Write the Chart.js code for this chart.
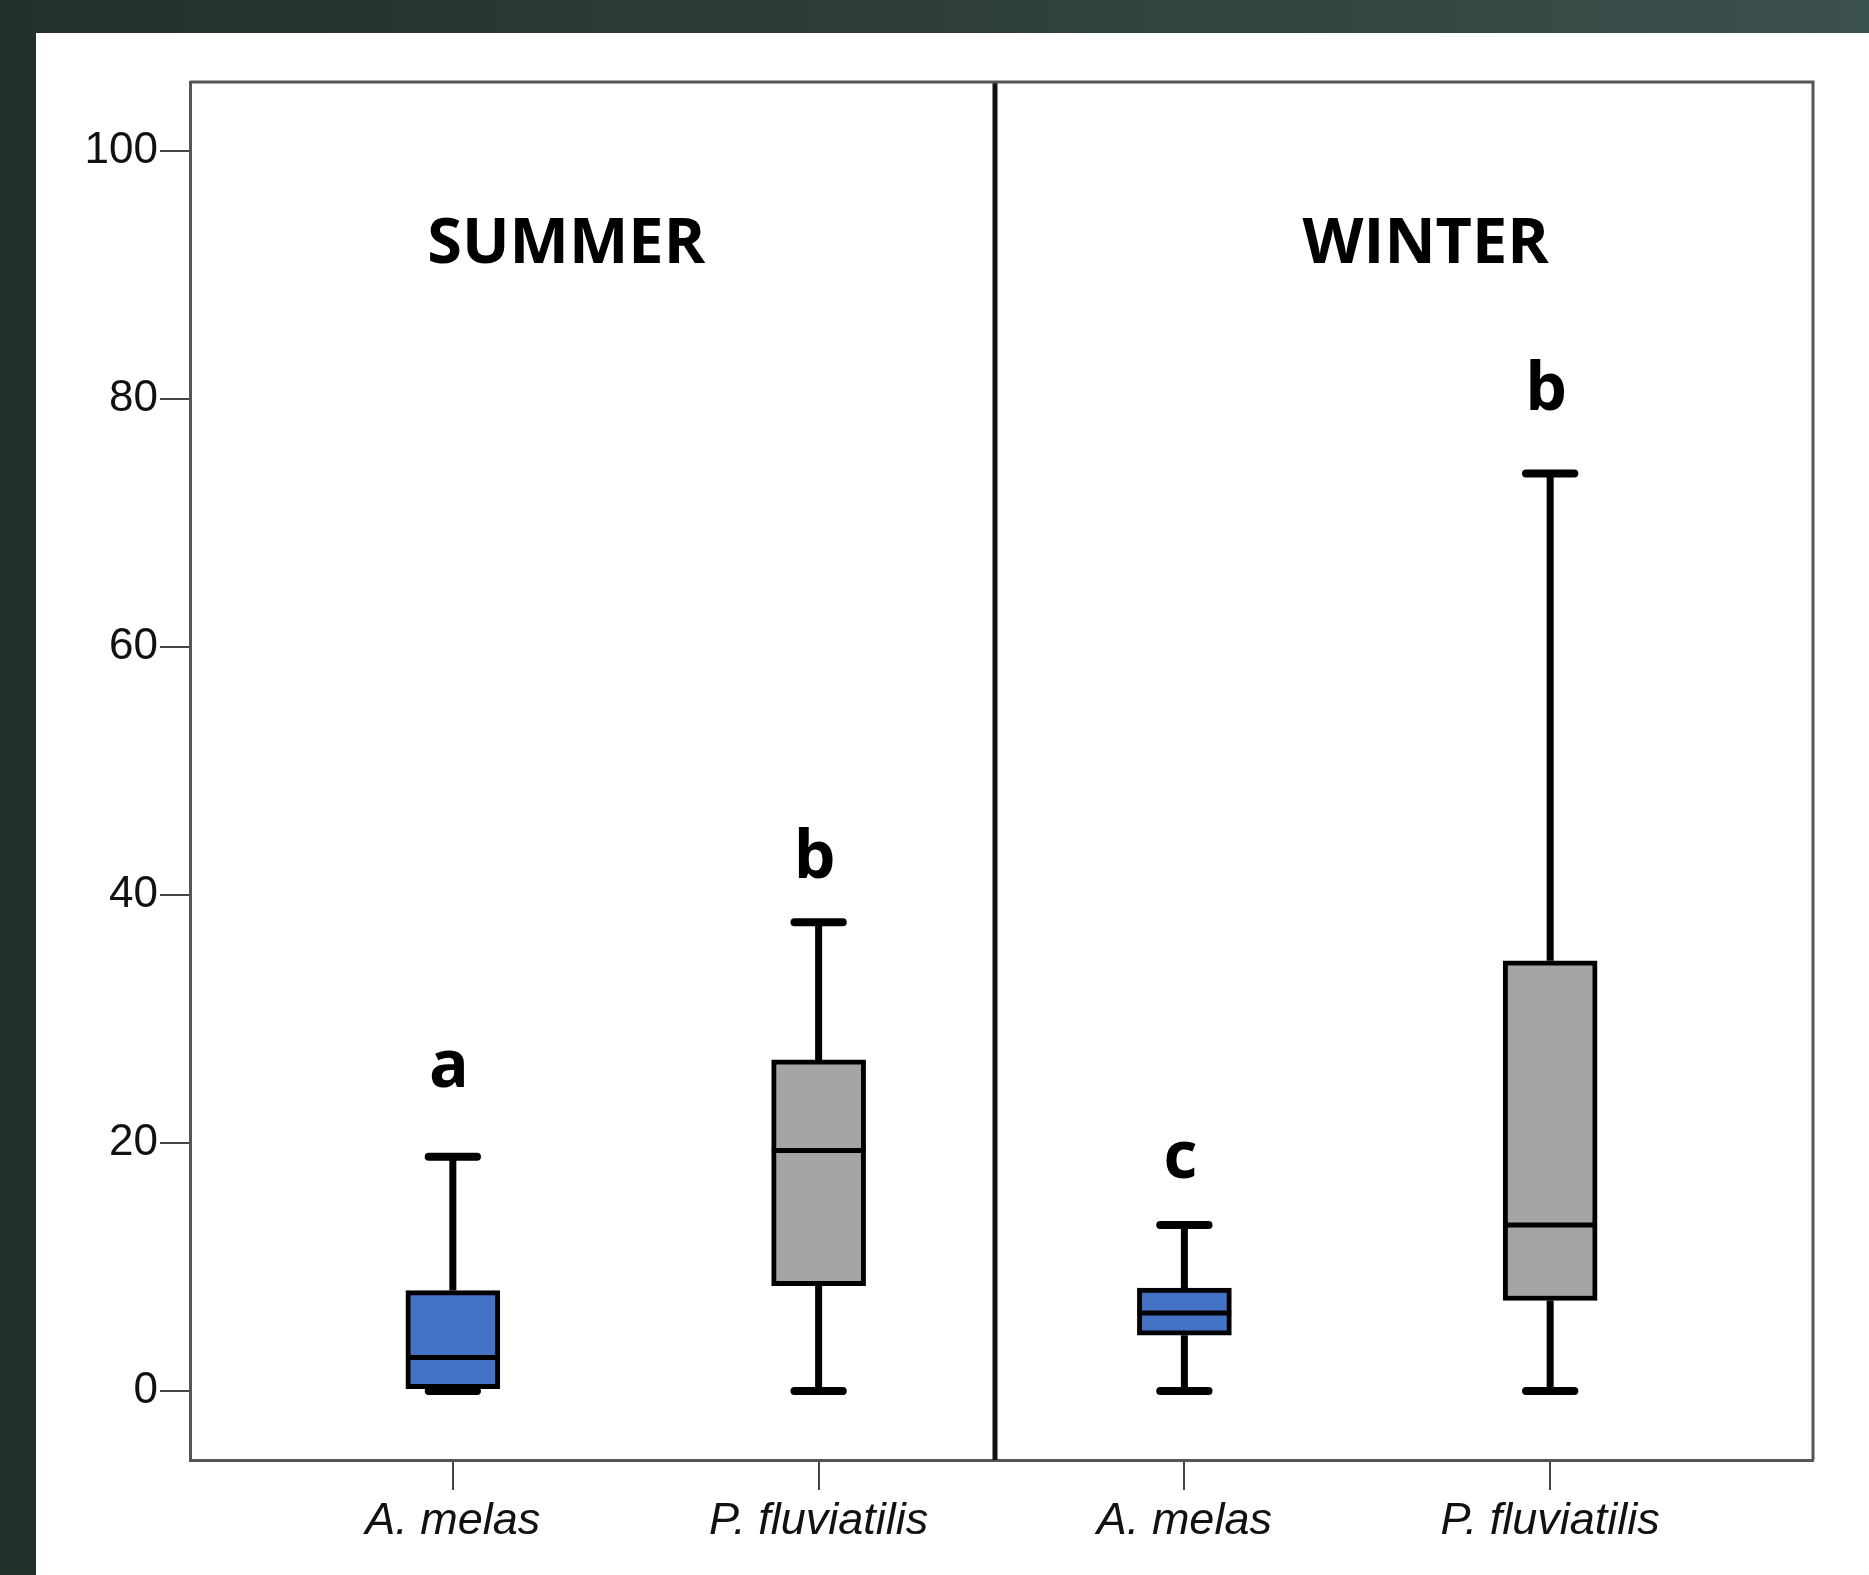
<!DOCTYPE html>
<html>
<head>
<meta charset="utf-8">
<script src="https://cdn.jsdelivr.net/npm/chart.js@4.4.1/dist/chart.umd.min.js"></script>
<style>
  html, body { margin:0; padding:0; width:1869px; height:1575px; overflow:hidden;
    background: linear-gradient(90deg, #232f2b 0%, #2c3c37 40%, #3a504c 100%); }
  #wrap { position:absolute; left:36px; top:33px; width:1833px; height:1542px; background:#ffffff; }
  canvas { display:block; }
</style>
</head>
<body>
<div id="wrap"><canvas id="c" width="1833" height="1542"></canvas></div>
<script>
// ---- data ----
const categories   = ['A. melas', 'P. fluviatilis', 'A. melas', 'P. fluviatilis'];
const seasons      = ['SUMMER', 'WINTER'];
const whiskerMin   = [0, 0, 0, 0];
const q1           = [0.2, 8.5, 4.5, 7.3];
const median       = [2.7, 19.4, 6.3, 13.4];
const q3           = [8.1, 26.7, 8.3, 34.7];
const whiskerMax   = [18.9, 37.8, 13.4, 74.0];
const letters      = ['a', 'b', 'c', 'b'];
const letterY      = [24.5, 41.4, 17.2, 79.1];
const yTicks       = [0, 20, 40, 60, 80, 100];
const boxColors    = ['#4472c4', '#a5a5a5', '#4472c4', '#a5a5a5'];

// ---- layout / style constants ----
const seasonX = [0.31, 2.66];
const seasonY = 91.0;
const dividerX = 1.481;
const capHalf = 0.066;
const boxHalf = 0.128;

function segments(list) {
  const out = [];
  list.forEach(s => { out.push({x:s[0], y:s[1]}, {x:s[2], y:s[3]}, {x:s[2], y:null}); });
  return out;
}
const whiskerSegs = [], capSegs = [], medianSegs = [];
categories.forEach((c, i) => {
  whiskerSegs.push([i, whiskerMin[i], i, q1[i]], [i, q3[i], i, whiskerMax[i]]);
  capSegs.push([i - capHalf, whiskerMax[i], i + capHalf, whiskerMax[i]],
               [i - capHalf, whiskerMin[i], i + capHalf, whiskerMin[i]]);
  medianSegs.push([i - boxHalf, median[i], i + boxHalf, median[i]]);
});

const overlay = {
  id: 'overlay',
  afterDatasetsDraw(chart) {
    const {ctx, chartArea:a, scales:{x, y}} = chart;
    ctx.save();
    ctx.strokeStyle = '#111';
    ctx.lineWidth = 5;
    const dx = Math.round(x.getPixelForValue(dividerX));
    ctx.beginPath(); ctx.moveTo(dx, a.top); ctx.lineTo(dx, a.bottom); ctx.stroke();
    ctx.fillStyle = '#000';
    ctx.textAlign = 'center';
    ctx.textBaseline = 'alphabetic';
    ctx.font = 'bold 63px "Open Sans"';
    seasons.forEach((s, i) => ctx.fillText(s, x.getPixelForValue(seasonX[i]), y.getPixelForValue(seasonY)));
    ctx.font = 'bold 66px "Open Sans"';
    letters.forEach((l, i) => ctx.fillText(l, x.getPixelForValue(i) - 4, y.getPixelForValue(letterY[i])));
    ctx.restore();
  },
  afterDraw(chart) {
    const {ctx, chartArea:a} = chart;
    ctx.save();
    ctx.strokeStyle = '#555';
    ctx.lineWidth = 3;
    ctx.beginPath();
    ctx.moveTo(a.left, a.top); ctx.lineTo(a.right, a.top); ctx.lineTo(a.right, a.bottom);
    ctx.stroke();
    ctx.restore();
  }
};

new Chart(document.getElementById('c'), {
  type: 'bar',
  data: {
    datasets: [
      {
        type: 'line', label: 'medians', order: 0,
        data: segments(medianSegs),
        borderColor: '#000', borderWidth: 5, pointRadius: 0, spanGaps: false, borderCapStyle: 'butt'
      },
      {
        type: 'bar', label: 'boxes', order: 1,
        data: categories.map((c, i) => ({x: i, y: [q1[i], q3[i]]})),
        backgroundColor: boxColors, borderColor: '#000', borderWidth: 5,
        borderSkipped: false, barThickness: 94
      },
      {
        type: 'line', label: 'whiskers', order: 2,
        data: segments(whiskerSegs),
        borderColor: '#000', borderWidth: 7, pointRadius: 0, spanGaps: false, borderCapStyle: 'butt'
      },
      {
        type: 'line', label: 'caps', order: 2,
        data: segments(capSegs),
        borderColor: '#000', borderWidth: 8, pointRadius: 0, spanGaps: false, borderCapStyle: 'round'
      }
    ]
  },
  options: {
    responsive: false,
    devicePixelRatio: 1,
    animation: false,
    layout: { padding: { left: 0, top: 49, right: 56, bottom: 0 } },
    plugins: { legend: { display: false }, tooltip: { enabled: false } },
    scales: {
      x: {
        type: 'linear', min: -0.7186, max: 3.7186, offset: false,
        afterBuildTicks: s => { s.ticks = categories.map((c, i) => ({value: i})); },
        afterFit: s => { s.height = 115; },
        grid: { offset: false, drawOnChartArea: false, drawTicks: true, tickLength: 30, color: '#444', lineWidth: 2 },
        border: { display: true, color: '#555', width: 3 },
        ticks: {
          callback: v => categories[v] ?? '',
          font: { family: '"Liberation Sans", Arial', size: 45, style: 'italic' },
          color: '#111', padding: 4, maxRotation: 0, autoSkip: false
        }
      },
      y: {
        type: 'linear', min: -5.56, max: 105.56,
        afterBuildTicks: s => { s.ticks = yTicks.map(v => ({value: v})); },
        afterFit: s => { s.width = 154; },
        grid: { drawOnChartArea: false, drawTicks: true, tickLength: 30, color: '#444', lineWidth: 2 },
        border: { display: true, color: '#555', width: 3 },
        ticks: {
          font: { family: '"Liberation Sans", Arial', size: 44 },
          color: '#111', padding: 2
        }
      }
    }
  },
  plugins: [overlay]
});
</script>
</body>
</html>
